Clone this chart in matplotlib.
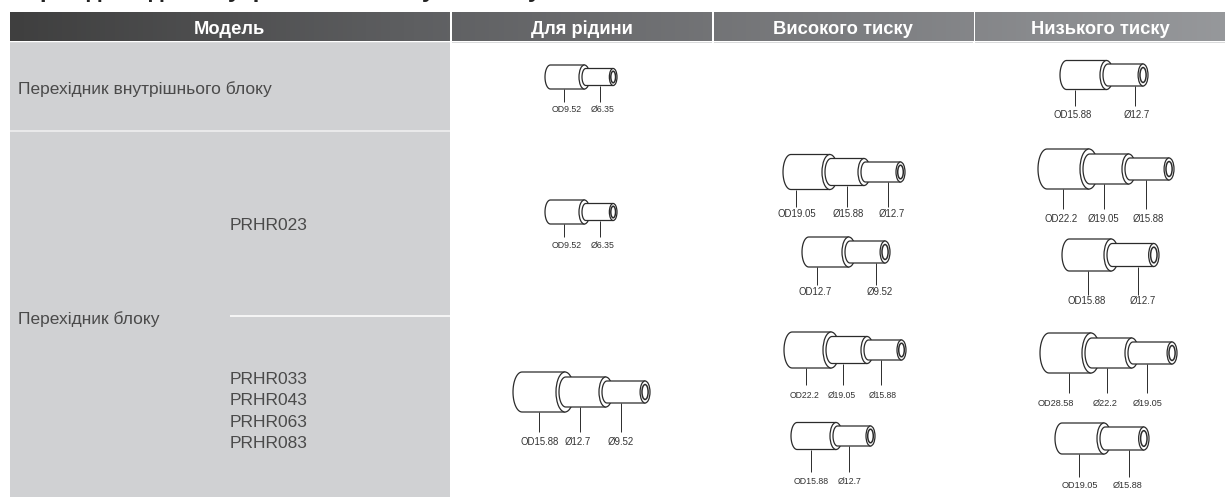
import numpy as np
import matplotlib
matplotlib.use("Agg")
import matplotlib.pyplot as plt
from matplotlib.patches import Rectangle, Ellipse, Polygon

# ---- text content
title = "Перехідник для внутрішнього блоку та блоку"
headers = ["Модель", "Для рідини", "Високого тиску", "Низького тиску"]
row_indoor = "Перехідник внутрішнього блоку"
row_unit = "Перехідник блоку"
models_small = ["PRHR023"]
models_large = ["PRHR033", "PRHR043", "PRHR063", "PRHR083"]

# ---- fitting labels
labels_liq_a = ["OD9.52", "Ø6.35"]
labels_liq_b = ["OD9.52", "Ø6.35"]
labels_liq_c = ["OD15.88", "Ø12.7", "Ø9.52"]
labels_hi_a = ["OD19.05", "Ø15.88", "Ø12.7"]
labels_hi_b = ["OD12.7", "Ø9.52"]
labels_hi_c = ["OD22.2", "Ø19.05", "Ø15.88"]
labels_hi_d = ["OD15.88", "Ø12.7"]
labels_lo_0 = ["OD15.88", "Ø12.7"]
labels_lo_a = ["OD22.2", "Ø19.05", "Ø15.88"]
labels_lo_b = ["OD15.88", "Ø12.7"]
labels_lo_c = ["OD28.58", "Ø22.2", "Ø19.05"]
labels_lo_d = ["OD19.05", "Ø15.88"]

# ---- layout (pixel space of the page)
W, H = 1225, 497
col_edges = [(10, 449.5), (452, 711.5), (713.5, 973), (975, 1225)]
HEAD_TOP, HEAD_BOT = 12, 41.5
GREY = "#d0d1d3"
SEP = "#e9e9ea"
TXT = "#4a4a4a"

# each fitting: steps(x), tip x, half heights, centre y, leader x, leader end y,
# label x, label y, labels, label scale
fittings = [
    ([545, 579], 617, [12, 8.5], 77, [564, 600], 102, [567, 603], 110, labels_liq_a, 0.92),
    ([545, 579], 617, [12, 8.5], 212, [564, 600], 237, [567, 603], 245, labels_liq_b, 0.92),
    ([513, 556, 599], 650, [20, 15, 11], 392, [539, 580, 621], 432, [540, 578, 621], 442, labels_liq_c, 1.0),
    ([783, 822, 858], 905, [17.5, 13.5, 10], 172, [796, 847, 888], 207, [797, 848, 892], 214, labels_hi_a, 1.0),
    ([802, 842], 890, [15, 11], 252, [817, 876], 285, [815, 880], 292, labels_hi_b, 1.0),
    ([784, 823, 861], 906, [18, 13.5, 10], 350, [806, 843, 881], 385, [805, 842, 883], 396, labels_hi_c, 0.9),
    ([791, 830], 875, [13.5, 10], 436, [811, 849], 472, [811, 850], 481, labels_hi_d, 0.92),
    ([1060, 1100], 1148, [14.5, 11], 75, [1075, 1135], 106, [1073, 1137], 115, labels_lo_0, 1.0),
    ([1038, 1080, 1122], 1174, [20, 15, 11], 169, [1063, 1104, 1146], 209, [1061, 1103, 1148], 219, labels_lo_a, 1.0),
    ([1062, 1104], 1159, [16, 11.5], 255, [1088, 1138], 295, [1087, 1143], 301, labels_lo_b, 1.0),
    ([1040, 1082, 1125], 1177, [20, 15, 11], 353, [1069, 1107, 1147], 393, [1056, 1105, 1148], 403, labels_lo_c, 0.95),
    ([1055, 1097], 1149, [15.5, 11.5], 438.5, [1079, 1129], 477, [1080, 1128], 485, labels_lo_d, 0.95),
]

plt.rcParams["font.family"] = ["Liberation Sans", "DejaVu Sans"]
fig = plt.figure(figsize=(W / 100, H / 100), dpi=100, facecolor="white")
ax = fig.add_axes([0, 0, 1, 1])
ax.set_xlim(0, W)
ax.set_ylim(H, 0)
ax.axis("off")

# ---- header band with a left-to-right gradient
grad = np.linspace(0, 1, 256)[None, :]
cmap = matplotlib.colors.LinearSegmentedColormap.from_list(
    "hdr", ["#3f3f3f", "#5e5f61", "#7a7b7e", "#96989b"])
for x0, x1 in col_edges:
    im = ax.imshow(grad, extent=(10, W, HEAD_BOT, HEAD_TOP), cmap=cmap, aspect="auto", zorder=1)
    im.set_clip_path(Rectangle((x0, HEAD_TOP), x1 - x0, HEAD_BOT - HEAD_TOP, transform=ax.transData))
ax.set_xlim(0, W)
ax.set_ylim(H, 0)
for (x0, x1), text in zip(col_edges, headers):
    ax.add_patch(Rectangle((x0, HEAD_BOT), x1 - x0, 1.2, fc="#d9dadb", ec="none", zorder=1))
    ax.text((x0 + x1) / 2, 29.5, text, color="white", fontweight="bold", fontsize=13.2,
            ha="center", va="center", zorder=3)

# ---- first column cells
ax.add_patch(Rectangle((10, 43), 439.5, 87, fc=GREY, ec="none", zorder=1))
ax.add_patch(Rectangle((10, 132), 439.5, H - 132, fc=GREY, ec="none", zorder=1))
ax.add_patch(Rectangle((10, 130), 439.5, 2, fc=SEP, ec="none", zorder=1))
ax.plot([230, 449.5], [316.3, 316.3], color="white", lw=1.1, zorder=2, solid_capstyle="butt")

body = dict(color=TXT, fontsize=12.5, va="center", ha="left", zorder=3)
ax.text(17.5, 89, row_indoor, **body)
ax.text(17.5, 319.5, row_unit, **body)
ax.text(230, 226, models_small[0], **body)
for y, m in zip([380, 400.5, 422.5, 444], models_large):
    ax.text(230, y, m, **body)

# ---- title, of which only the descenders enter the page
ax.text(10, -3.5, title, color="#222222", fontweight="bold", fontsize=17,
        ha="left", va="baseline", zorder=3, clip_on=False)


# ---- fitting drawing
def body_poly(x_left, x_right, cy, h):
    e = 0.45 * h
    t = np.linspace(-np.pi / 2, np.pi / 2, 30)
    arc_x = x_left + e - e * np.cos(t)
    arc_y = cy + h * np.sin(t)
    pts = np.column_stack([arc_x, arc_y])
    pts = np.vstack([pts, [x_right, cy + h], [x_right, cy - h]])
    return pts


LW = 0.9
INK = "#2b2b2b"
for steps, tip, hs, cy, lead_x, lead_end, lab_x, lab_y, labs, scale in fittings:
    z = 4
    n = len(steps)
    for i in range(n):
        h = hs[i]
        e = 0.45 * h
        xr = steps[i + 1] + e if i < n - 1 else tip - e
        left = steps[i] + (3 if i > 0 else 0)
        ax.add_patch(Polygon(body_poly(left, xr, cy, h), closed=True, fc="white", ec=INK, lw=LW, zorder=z))
        z += 0.1
        ax.add_patch(Ellipse((xr, cy), 2 * e, 2 * h, fc="white", ec=INK, lw=LW, zorder=z))
        z += 0.1
        if i == n - 1:
            ax.add_patch(Ellipse((xr, cy), 2 * e * 0.62, 2 * h * 0.68, fc="white", ec=INK, lw=LW * 1.2, zorder=z))
    for i, (lx, tx, lab) in enumerate(zip(lead_x, lab_x, labs)):
        ax.plot([lx, lx], [cy + hs[i], lead_end], color=INK, lw=0.7, zorder=3.5, solid_capstyle="butt")
        ax.text(tx, lab_y, lab, color="#333333", fontsize=6.9 * scale, ha="center", va="center", zorder=5)

fig.savefig("out.png", dpi=100, facecolor="white")
